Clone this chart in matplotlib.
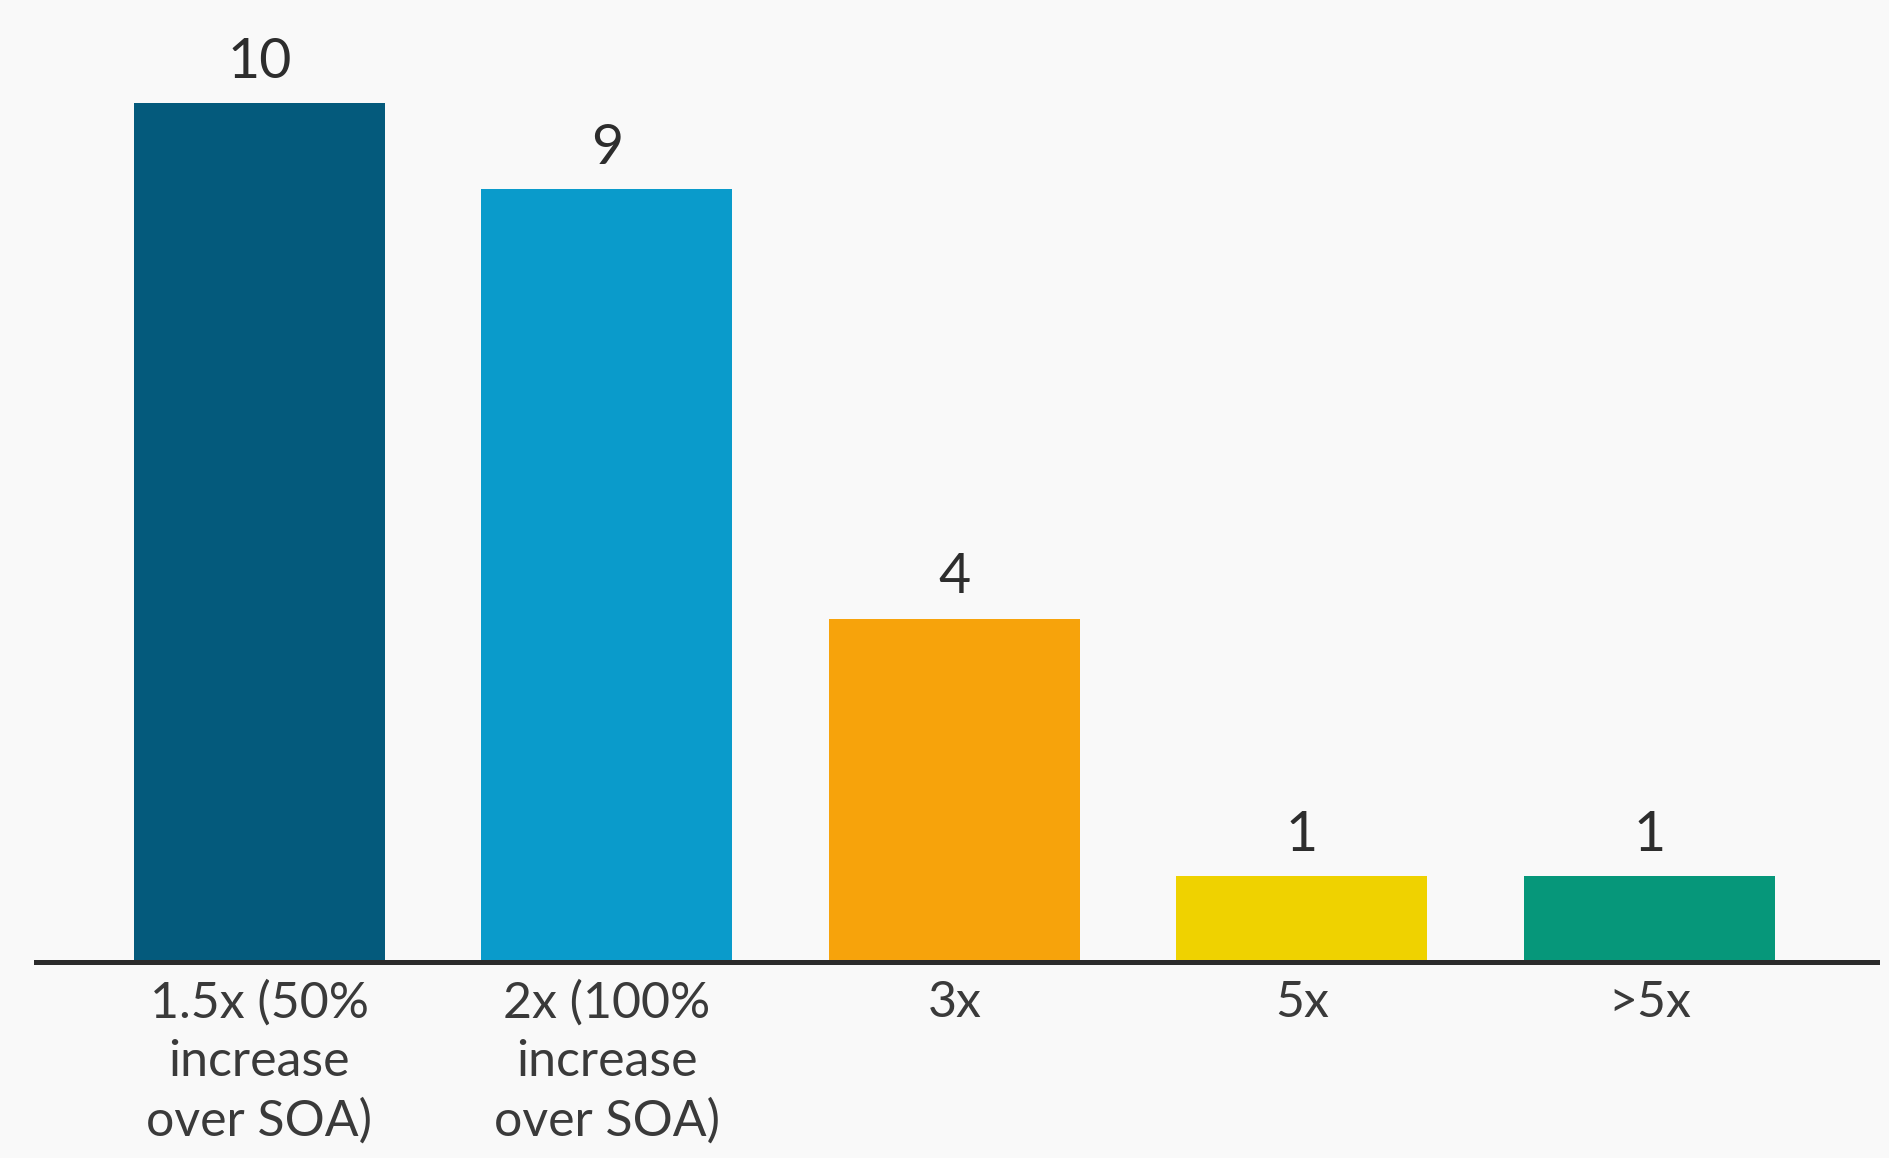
import numpy as np
import matplotlib
matplotlib.use("Agg")
from matplotlib import pyplot as plt

# data
categories = ["1.5x (50%\nincrease\nover SOA)", "2x (100%\nincrease\nover SOA)", "3x", "5x", ">5x"]
values = [10, 9, 4, 1, 1]
bar_colors = ["#045a7c", "#0a9bcb", "#f7a30b", "#efd200", "#06977a"]

plt.rcParams['font.family'] = ['Lato', 'DejaVu Sans']

fig = plt.figure(figsize=(18.9, 11.58), dpi=100)
fig.patch.set_facecolor("#f9f9f9")
ax = fig.add_axes([0.019, 0.169, 0.974, 0.831])
ax.set_facecolor("#f9f9f9")

x = np.arange(len(categories))
bars = ax.bar(x, values, width=0.722, color=bar_colors, zorder=2)

for xi, v in zip(x, values):
    ax.annotate(str(v), (xi, v), xytext=(0, 11), textcoords="offset points",
                ha="center", va="bottom", fontsize=40, color="#2d2d2d")

ax.set_xlim(-0.643, 4.654)
ax.set_ylim(0, 11.2)
ax.set_yticks([])
ax.set_xticks(x)
ax.set_xticklabels(categories, fontsize=36, color="#3a3a3a", linespacing=1.33)
ax.tick_params(axis="x", length=0, pad=13)

for side in ["top", "right", "left"]:
    ax.spines[side].set_visible(False)
ax.spines["bottom"].set_linewidth(3.6)
ax.spines["bottom"].set_color("#2b2b2b")
ax.spines["bottom"].set_zorder(3)

fig.savefig("out.png", dpi=100, facecolor=fig.get_facecolor())
